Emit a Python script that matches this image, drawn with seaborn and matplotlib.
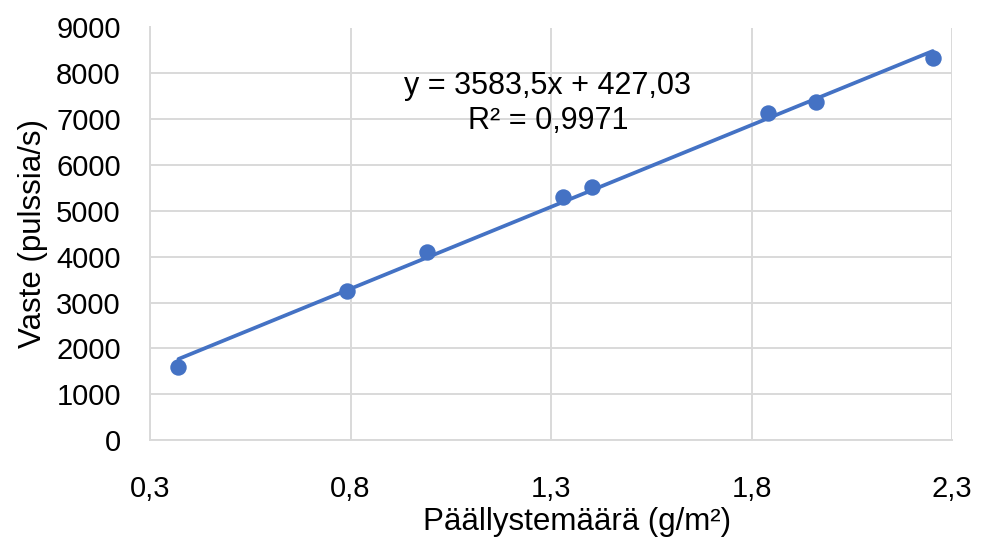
import matplotlib
matplotlib.use("Agg")
import matplotlib.pyplot as plt
import matplotlib.ticker as mticker
import seaborn as sns
import numpy as np
import pandas as pd

x_vals = [0.371, 0.791, 0.992, 1.331, 1.402, 1.842, 1.961, 2.252]
y_vals = [1600, 3250, 4110, 5295, 5527, 7142, 7369, 8329]
x_ticks = [0.3, 0.8, 1.3, 1.8, 2.3]
y_ticks = [0, 1000, 2000, 3000, 4000, 5000, 6000, 7000, 8000, 9000]
eq_text = "y = 3583,5x + 427,03\nR² = 0,9971"
x_label = "Päällystemäärä (g/m²)"
y_label = "Vaste (pulssia/s)"

df = pd.DataFrame({"x": x_vals, "y": y_vals})

sns.set_style("whitegrid")
plt.rcParams["font.family"] = ["Liberation Sans", "DejaVu Sans"]
plt.rcParams["text.color"] = "black"
plt.rcParams["axes.labelcolor"] = "black"

fig = plt.figure(figsize=(9.81, 5.43), dpi=100)
ax = fig.add_axes([150/981, 1-440/543, (952-150)/981, (440-27.5)/543])

color = "#4472C4"
coef = np.polyfit(df["x"], df["y"], 1)
xs = np.array([df["x"].min(), df["x"].max()])
sns.lineplot(x=xs, y=np.polyval(coef, xs), ax=ax, color=color, linewidth=2.7, zorder=2)
sns.scatterplot(data=df, x="x", y="y", ax=ax, color=color, s=140, edgecolor=color, linewidth=0, zorder=3)

ax.set_xlim(0.3, 2.3)
ax.set_ylim(0, 9000)
ax.set_xticks(x_ticks)
ax.set_yticks(y_ticks)
ax.xaxis.set_major_formatter(mticker.FuncFormatter(lambda v, p: f"{v:.1f}".replace(".", ",")))
ax.yaxis.set_major_formatter(mticker.FuncFormatter(lambda v, p: f"{int(v)}"))
ax.grid(True, color="#d9d9d9", linewidth=1.4)
for s in ["top", "right"]:
    ax.spines[s].set_visible(False)
for s in ["left", "bottom"]:
    ax.spines[s].set_color("#d9d9d9")
    ax.spines[s].set_linewidth(1.4)
ax.tick_params(axis="both", length=0, labelsize=21, colors="black")
ax.tick_params(axis="y", pad=21)
ax.tick_params(axis="x", pad=25)
ax.set_xlabel(x_label, fontsize=22.5, labelpad=3, color="black")
ax.xaxis.label.set_x((577-150)/802)
ax.set_ylabel(y_label, fontsize=22.5, labelpad=6, color="black")

ax.text(1.2925, 7342, eq_text, fontsize=22, ha="center", va="center", linespacing=1.2, color="black")

fig.savefig("out.png", dpi=100)
